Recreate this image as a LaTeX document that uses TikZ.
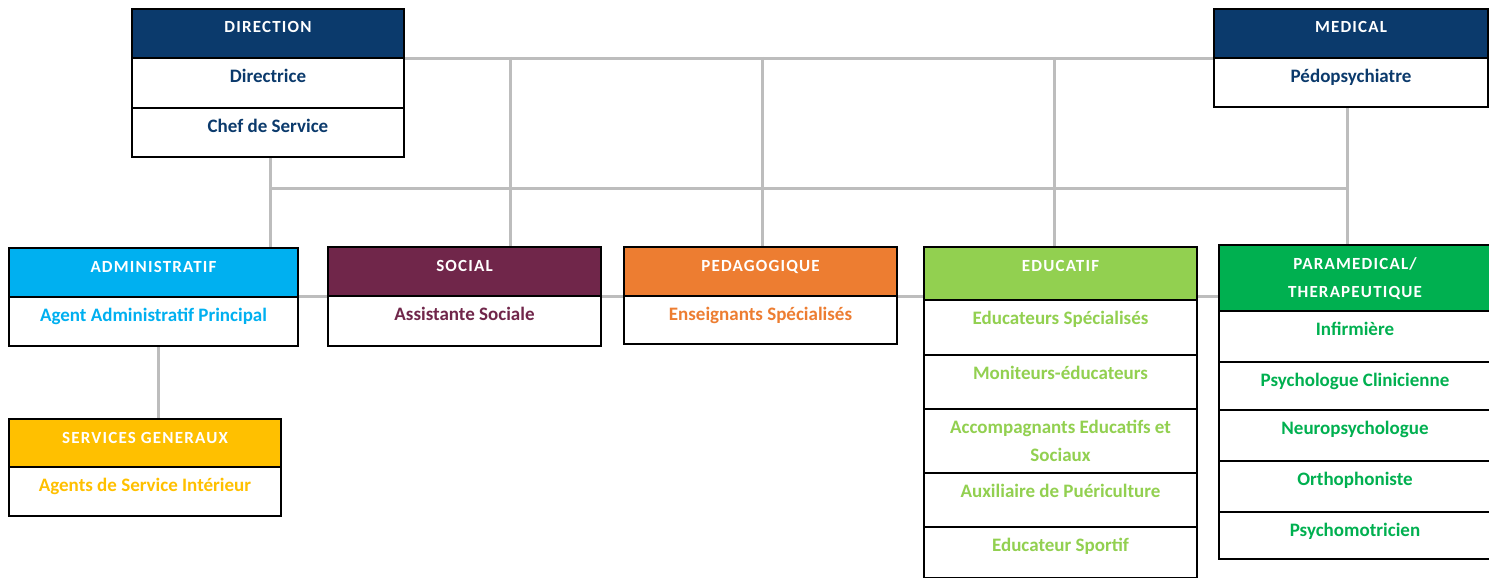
\documentclass[tikz,border=0pt]{standalone}
\usepackage{fontspec}
\setmainfont{Carlito}
\usetikzlibrary{calc,backgrounds}
\definecolor{navy}{HTML}{0B3A6C}
\definecolor{cyanb}{HTML}{00B0F0}
\definecolor{plum}{HTML}{70264A}
\definecolor{orangeb}{HTML}{ED7D31}
\definecolor{lgreen}{HTML}{92D050}
\definecolor{dgreen}{HTML}{00B050}
\definecolor{gold}{HTML}{FFC000}
\definecolor{conn}{HTML}{BDBDBD}
% name, x, ytop, width, height, fill, text colour, text
\newcommand\orgcell[8]{%
  \node[cellbox, fill=#6, minimum width=#4pt, minimum height=#5pt] (#1) at (#2,#3) {};
  \node[celltext, text=#7] (#1-t) at ($(#1.north)+(0,25)$) {#8};}
% name, x, ytop, width, height, fill, text
\newcommand\orghead[7]{%
  \node[cellbox, fill=#6, minimum width=#4pt, minimum height=#5pt] (#1) at (#2,#3) {};
  \node[headtext] (#1-t) at ($(#1.north)+(0,25)$) {#7};}
\begin{document}
\begin{tikzpicture}[x=1pt,y=-1pt,
  cellbox/.style={draw=black, line width=2pt, inner sep=0pt, anchor=north west},
  celltext/.style={inner sep=0pt, anchor=base, font=\bfseries\fontsize{19}{21}\selectfont},
  headtext/.style={inner sep=0pt, anchor=base, text=white, font=\bfseries\fontsize{17}{19}\selectfont\addfontfeature{LetterSpace=7}},
  link/.style={draw=conn, line width=3pt}]
\useasboundingbox (0,0) rectangle (1489,578);

% DIRECTION
\orghead{dirH}{131}{8}{272}{49}{navy}{DIRECTION}
\orgcell{dirA}{131}{57}{272}{50}{white}{navy}{Directrice}
\orgcell{dirB}{131}{107}{272}{49}{white}{navy}{Chef de Service}
% MEDICAL
\orghead{medH}{1213}{8}{274}{49}{navy}{MEDICAL}
\orgcell{medA}{1213}{57}{274}{49}{white}{navy}{Pédopsychiatre}
% ADMINISTRATIF
\orghead{admH}{8}{247}{289}{49}{cyanb}{ADMINISTRATIF}
\orgcell{admA}{8}{296}{289}{49}{white}{cyanb}{Agent Administratif Principal}
% SERVICES GENERAUX
\orghead{sgH}{8}{418}{272}{48}{gold}{SERVICES GENERAUX}
\orgcell{sgA}{8}{466}{272}{49}{white}{gold}{Agents de Service Intérieur}
% SOCIAL
\orghead{socH}{327}{246}{273}{49}{plum}{SOCIAL}
\orgcell{socA}{327}{295}{273}{50}{white}{plum}{Assistante Sociale}
% PEDAGOGIQUE
\orghead{pedH}{623}{246}{273}{49}{orangeb}{PEDAGOGIQUE}
\orgcell{pedA}{623}{295}{273}{48}{white}{orangeb}{Enseignants Spécialisés}
% EDUCATIF
\orghead{eduH}{923}{246}{273}{53}{lgreen}{EDUCATIF}
\orgcell{eduA}{923}{299}{273}{55}{white}{lgreen}{Educateurs Spécialisés}
\orgcell{eduB}{923}{354}{273}{54}{white}{lgreen}{Moniteurs-éducateurs}
\orgcell{eduC}{923}{408}{273}{64}{white}{lgreen}{Accompagnants Educatifs et}
\node[celltext, text=lgreen] (eduC-t2) at ($(eduC.north)+(0,53)$) {Sociaux};
\orgcell{eduD}{923}{472}{273}{54}{white}{lgreen}{Auxiliaire de Puériculture}
\orgcell{eduE}{923}{526}{273}{51}{white}{lgreen}{Educateur Sportif}
% PARAMEDICAL
\orghead{parH}{1218}{244}{272}{66}{dgreen}{PARAMEDICAL/}
\node[headtext] (parH-t2) at ($(parH.north)+(0,53)$) {THERAPEUTIQUE};
\orgcell{parA}{1218}{310}{272}{51}{white}{dgreen}{Infirmière}
\orgcell{parB}{1218}{361}{272}{48}{white}{dgreen}{Psychologue Clinicienne}
\orgcell{parC}{1218}{409}{272}{51}{white}{dgreen}{Neuropsychologue}
\orgcell{parD}{1218}{460}{272}{51}{white}{dgreen}{Orthophoniste}
\orgcell{parE}{1218}{511}{272}{47}{white}{dgreen}{Psychomotricien}

% connectors
\begin{scope}[on background layer]
  \coordinate (j1) at (510,57);
  \coordinate (j2) at (762,57);
  \coordinate (j3) at (1054,57);
  \coordinate (m1) at (270,188);
  \coordinate (m2) at (1347,188);
  \coordinate (r1) at (297,296);
  \draw[link] (dirH.south east) -- (medH.south west);
  \draw[link] (j1) -- (j1 |- socH.north);
  \draw[link] (j2) -- (j2 |- pedH.north);
  \draw[link] (j3) -- (j3 |- eduH.north);
  \draw[link] (m1 |- dirB.south) -- (m1 |- admH.north);
  \draw[link] (m2 |- medA.south) -- (m2 |- parH.north);
  \draw[link] (m1) -- (m2);
  \draw[link] (admH.east |- r1) -- (parH.west |- r1);
  \draw[link] ([xshift=5pt]admA.south) -- ([xshift=5pt]admA.south |- sgH.north);
\end{scope}
\end{tikzpicture}
\end{document}
